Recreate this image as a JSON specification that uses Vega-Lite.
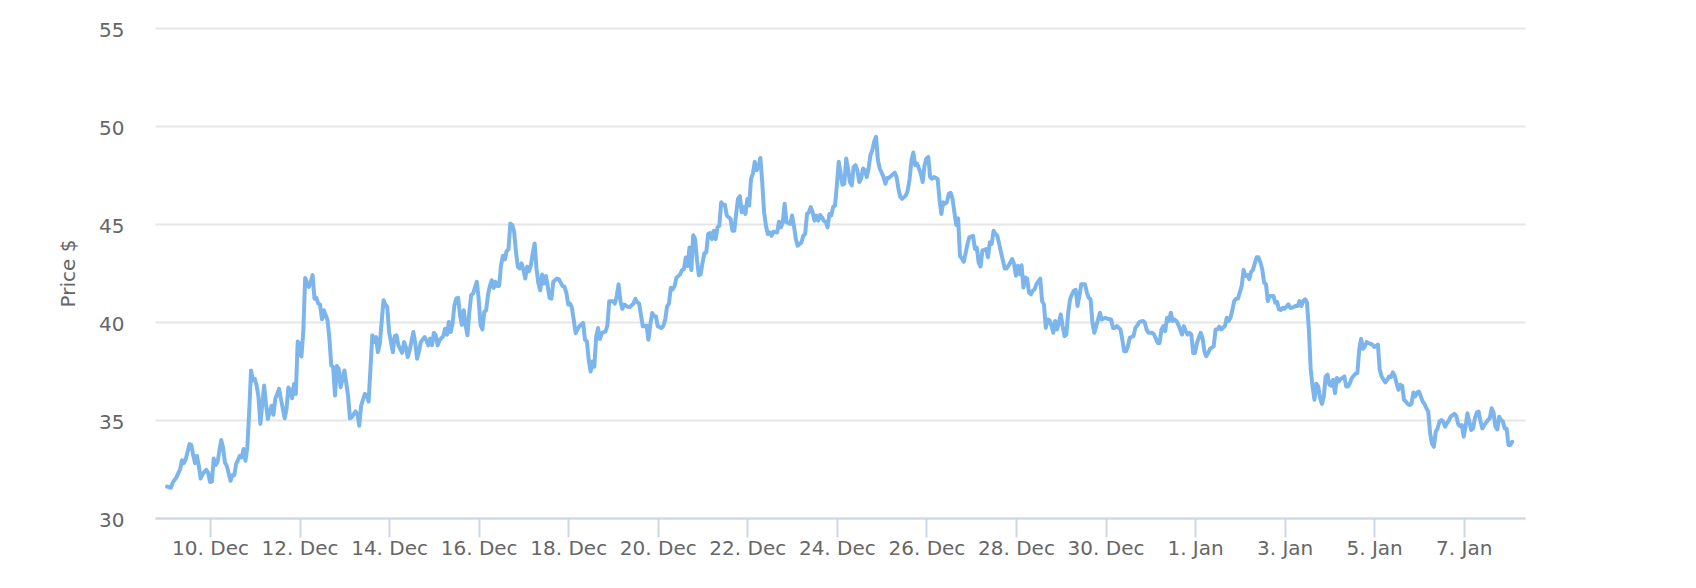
{
"$schema": "https://vega.github.io/schema/vega-lite/v6.json",
"width": 1370, "height": 490,
"autosize": "none",
"padding": {"left": 155, "top": 28, "right": 171, "bottom": 70},
"background": "white",
"config": {"view": {"stroke": null}, "font": "DejaVu Sans"},
"data": {"values": [
{"t":"2017-12-09T01:00Z","p":31.6},{"t":"2017-12-09T03:00Z","p":31.54},{"t":"2017-12-09T04:00Z","p":31.8},{"t":"2017-12-09T06:00Z","p":32.07},{"t":"2017-12-09T08:00Z","p":32.5},{"t":"2017-12-09T09:00Z","p":32.95},{"t":"2017-12-09T10:00Z","p":32.8},{"t":"2017-12-09T11:00Z","p":33.0},{"t":"2017-12-09T13:00Z","p":33.77},{"t":"2017-12-09T14:00Z","p":33.72},{"t":"2017-12-09T15:00Z","p":33.2},{"t":"2017-12-09T16:00Z","p":32.8},{"t":"2017-12-09T17:00Z","p":33.17},{"t":"2017-12-09T18:00Z","p":32.66},{"t":"2017-12-09T19:00Z","p":32.01},{"t":"2017-12-09T20:00Z","p":32.24},{"t":"2017-12-09T22:00Z","p":32.46},{"t":"2017-12-09T23:00Z","p":32.32},
{"t":"2017-12-10T00:00Z","p":31.84},{"t":"2017-12-10T01:00Z","p":31.86},{"t":"2017-12-10T02:00Z","p":33.04},{"t":"2017-12-10T03:00Z","p":32.7},{"t":"2017-12-10T04:00Z","p":32.83},{"t":"2017-12-10T06:00Z","p":33.98},{"t":"2017-12-10T07:00Z","p":33.6},{"t":"2017-12-10T08:00Z","p":32.83},{"t":"2017-12-10T09:00Z","p":32.66},{"t":"2017-12-10T11:00Z","p":31.9},{"t":"2017-12-10T12:00Z","p":32.18},{"t":"2017-12-10T13:00Z","p":32.18},{"t":"2017-12-10T14:00Z","p":32.75},{"t":"2017-12-10T16:00Z","p":33.17},{"t":"2017-12-10T17:00Z","p":33.09},{"t":"2017-12-10T18:00Z","p":33.52},{"t":"2017-12-10T19:00Z","p":32.92},{"t":"2017-12-10T20:00Z","p":33.6},{"t":"2017-12-10T21:00Z","p":35.39},{"t":"2017-12-10T22:00Z","p":37.53},{"t":"2017-12-10T23:00Z","p":37.02},
{"t":"2017-12-11T00:00Z","p":37.1},{"t":"2017-12-11T01:00Z","p":36.76},{"t":"2017-12-11T02:00Z","p":36.16},{"t":"2017-12-11T03:00Z","p":34.8},{"t":"2017-12-11T05:00Z","p":36.76},{"t":"2017-12-11T06:00Z","p":35.82},{"t":"2017-12-11T07:00Z","p":35.05},{"t":"2017-12-11T09:00Z","p":35.73},{"t":"2017-12-11T10:00Z","p":35.27},{"t":"2017-12-11T11:00Z","p":36.08},{"t":"2017-12-11T13:00Z","p":36.59},{"t":"2017-12-11T14:00Z","p":36.08},{"t":"2017-12-11T16:00Z","p":35.09},{"t":"2017-12-11T17:00Z","p":35.56},{"t":"2017-12-11T18:00Z","p":36.66},{"t":"2017-12-11T19:00Z","p":36.5},{"t":"2017-12-11T20:00Z","p":36.11},{"t":"2017-12-11T21:00Z","p":36.84},{"t":"2017-12-11T22:00Z","p":36.33},{"t":"2017-12-11T23:00Z","p":39.01},
{"t":"2017-12-12T00:00Z","p":38.89},{"t":"2017-12-12T01:00Z","p":38.24},{"t":"2017-12-12T02:00Z","p":39.49},{"t":"2017-12-12T03:00Z","p":42.25},{"t":"2017-12-12T05:00Z","p":41.79},{"t":"2017-12-12T06:00Z","p":42.05},{"t":"2017-12-12T07:00Z","p":42.39},{"t":"2017-12-12T08:00Z","p":41.19},{"t":"2017-12-12T09:00Z","p":41.23},{"t":"2017-12-12T10:00Z","p":40.94},{"t":"2017-12-12T11:00Z","p":40.89},{"t":"2017-12-12T12:00Z","p":40.14},{"t":"2017-12-12T13:00Z","p":40.6},{"t":"2017-12-12T15:00Z","p":40.09},{"t":"2017-12-12T16:00Z","p":39.15},{"t":"2017-12-12T17:00Z","p":37.78},{"t":"2017-12-12T18:00Z","p":37.7},{"t":"2017-12-12T19:00Z","p":36.25},{"t":"2017-12-12T20:00Z","p":37.75},{"t":"2017-12-12T21:00Z","p":37.61},{"t":"2017-12-12T22:00Z","p":36.67},{"t":"2017-12-12T23:00Z","p":37.1},
{"t":"2017-12-13T00:00Z","p":37.53},{"t":"2017-12-13T02:00Z","p":36.25},{"t":"2017-12-13T03:00Z","p":35.09},{"t":"2017-12-13T04:00Z","p":35.14},{"t":"2017-12-13T06:00Z","p":35.44},{"t":"2017-12-13T07:00Z","p":35.31},{"t":"2017-12-13T08:00Z","p":34.71},{"t":"2017-12-13T09:00Z","p":35.73},{"t":"2017-12-13T11:00Z","p":36.33},{"t":"2017-12-13T12:00Z","p":36.28},{"t":"2017-12-13T13:00Z","p":35.94},{"t":"2017-12-13T14:00Z","p":37.61},{"t":"2017-12-13T15:00Z","p":39.32},{"t":"2017-12-13T16:00Z","p":38.98},{"t":"2017-12-13T17:00Z","p":39.23},{"t":"2017-12-13T18:00Z","p":38.46},{"t":"2017-12-13T19:00Z","p":38.89},{"t":"2017-12-13T21:00Z","p":41.11},{"t":"2017-12-13T22:00Z","p":40.89},{"t":"2017-12-13T23:00Z","p":40.77},
{"t":"2017-12-14T00:00Z","p":39.49},{"t":"2017-12-14T02:00Z","p":38.46},{"t":"2017-12-14T03:00Z","p":39.28},{"t":"2017-12-14T04:00Z","p":39.32},{"t":"2017-12-14T05:00Z","p":38.81},{"t":"2017-12-14T07:00Z","p":38.43},{"t":"2017-12-14T08:00Z","p":38.98},{"t":"2017-12-14T09:00Z","p":38.72},{"t":"2017-12-14T10:00Z","p":38.21},{"t":"2017-12-14T11:00Z","p":38.55},{"t":"2017-12-14T13:00Z","p":39.49},{"t":"2017-12-14T14:00Z","p":38.94},{"t":"2017-12-14T15:00Z","p":38.12},{"t":"2017-12-14T16:00Z","p":38.5},{"t":"2017-12-14T17:00Z","p":38.98},{"t":"2017-12-14T19:00Z","p":39.23},{"t":"2017-12-14T20:00Z","p":39.06},{"t":"2017-12-14T21:00Z","p":38.81},{"t":"2017-12-14T22:00Z","p":39.15},{"t":"2017-12-14T23:00Z","p":38.81},
{"t":"2017-12-15T00:00Z","p":39.45},{"t":"2017-12-15T01:00Z","p":39.32},{"t":"2017-12-15T02:00Z","p":38.81},{"t":"2017-12-15T03:00Z","p":39.06},{"t":"2017-12-15T05:00Z","p":39.28},{"t":"2017-12-15T06:00Z","p":39.66},{"t":"2017-12-15T07:00Z","p":39.35},{"t":"2017-12-15T08:00Z","p":40.0},{"t":"2017-12-15T09:00Z","p":39.49},{"t":"2017-12-15T10:00Z","p":39.91},{"t":"2017-12-15T11:00Z","p":40.85},{"t":"2017-12-15T12:00Z","p":41.19},{"t":"2017-12-15T13:00Z","p":41.23},{"t":"2017-12-15T14:00Z","p":40.34},{"t":"2017-12-15T15:00Z","p":39.86},{"t":"2017-12-15T16:00Z","p":40.6},{"t":"2017-12-15T17:00Z","p":39.83},{"t":"2017-12-15T18:00Z","p":39.32},{"t":"2017-12-15T19:00Z","p":40.51},{"t":"2017-12-15T20:00Z","p":41.37},{"t":"2017-12-15T21:00Z","p":41.45},{"t":"2017-12-15T23:00Z","p":42.05},
{"t":"2017-12-16T00:00Z","p":41.19},{"t":"2017-12-16T01:00Z","p":39.86},{"t":"2017-12-16T02:00Z","p":39.62},{"t":"2017-12-16T03:00Z","p":40.51},{"t":"2017-12-16T04:00Z","p":40.6},{"t":"2017-12-16T05:00Z","p":41.37},{"t":"2017-12-16T06:00Z","p":41.84},{"t":"2017-12-16T07:00Z","p":42.13},{"t":"2017-12-16T08:00Z","p":41.74},{"t":"2017-12-16T09:00Z","p":42.05},{"t":"2017-12-16T10:00Z","p":41.84},{"t":"2017-12-16T11:00Z","p":41.84},{"t":"2017-12-16T12:00Z","p":42.9},{"t":"2017-12-16T13:00Z","p":43.38},{"t":"2017-12-16T14:00Z","p":43.19},{"t":"2017-12-16T15:00Z","p":43.62},{"t":"2017-12-16T16:00Z","p":43.72},{"t":"2017-12-16T17:00Z","p":45.03},{"t":"2017-12-16T18:00Z","p":44.95},{"t":"2017-12-16T19:00Z","p":44.61},{"t":"2017-12-16T20:00Z","p":43.58},{"t":"2017-12-16T21:00Z","p":42.82},{"t":"2017-12-16T22:00Z","p":42.73},{"t":"2017-12-16T23:00Z","p":42.99},
{"t":"2017-12-17T00:00Z","p":42.65},{"t":"2017-12-17T01:00Z","p":42.22},{"t":"2017-12-17T02:00Z","p":42.82},{"t":"2017-12-17T03:00Z","p":42.59},{"t":"2017-12-17T04:00Z","p":42.9},{"t":"2017-12-17T05:00Z","p":43.5},{"t":"2017-12-17T06:00Z","p":44.01},{"t":"2017-12-17T07:00Z","p":42.73},{"t":"2017-12-17T08:00Z","p":41.96},{"t":"2017-12-17T09:00Z","p":41.62},{"t":"2017-12-17T10:00Z","p":42.42},{"t":"2017-12-17T11:00Z","p":41.96},{"t":"2017-12-17T12:00Z","p":42.35},{"t":"2017-12-17T13:00Z","p":41.84},{"t":"2017-12-17T14:00Z","p":41.23},{"t":"2017-12-17T15:00Z","p":41.19},{"t":"2017-12-17T16:00Z","p":42.05},{"t":"2017-12-17T18:00Z","p":42.22},{"t":"2017-12-17T19:00Z","p":42.18},{"t":"2017-12-17T21:00Z","p":41.83},{"t":"2017-12-17T22:00Z","p":41.8},{"t":"2017-12-17T23:00Z","p":41.49},
{"t":"2017-12-18T00:00Z","p":40.89},{"t":"2017-12-18T01:00Z","p":40.94},{"t":"2017-12-18T02:00Z","p":40.72},{"t":"2017-12-18T04:00Z","p":39.43},{"t":"2017-12-18T05:00Z","p":39.61},{"t":"2017-12-18T06:00Z","p":39.78},{"t":"2017-12-18T08:00Z","p":39.95},{"t":"2017-12-18T09:00Z","p":39.09},{"t":"2017-12-18T10:00Z","p":39.01},{"t":"2017-12-18T11:00Z","p":38.07},{"t":"2017-12-18T12:00Z","p":37.47},{"t":"2017-12-18T13:00Z","p":37.98},{"t":"2017-12-18T14:00Z","p":37.72},{"t":"2017-12-18T15:00Z","p":39.26},{"t":"2017-12-18T16:00Z","p":39.69},{"t":"2017-12-18T17:00Z","p":39.13},{"t":"2017-12-18T18:00Z","p":39.43},{"t":"2017-12-18T20:00Z","p":39.52},{"t":"2017-12-18T21:00Z","p":39.81},{"t":"2017-12-18T22:00Z","p":41.06},
{"t":"2017-12-19T00:00Z","p":41.06},{"t":"2017-12-19T01:00Z","p":40.94},{"t":"2017-12-19T02:00Z","p":41.32},{"t":"2017-12-19T03:00Z","p":41.92},{"t":"2017-12-19T04:00Z","p":41.06},{"t":"2017-12-19T05:00Z","p":40.67},{"t":"2017-12-19T06:00Z","p":40.89},{"t":"2017-12-19T08:00Z","p":40.77},{"t":"2017-12-19T09:00Z","p":40.77},{"t":"2017-12-19T11:00Z","p":40.94},{"t":"2017-12-19T12:00Z","p":41.18},{"t":"2017-12-19T13:00Z","p":41.01},{"t":"2017-12-19T14:00Z","p":40.94},{"t":"2017-12-19T16:00Z","p":39.78},{"t":"2017-12-19T17:00Z","p":39.78},{"t":"2017-12-19T18:00Z","p":39.81},{"t":"2017-12-19T19:00Z","p":39.09},{"t":"2017-12-19T20:00Z","p":39.86},{"t":"2017-12-19T21:00Z","p":40.46},{"t":"2017-12-19T22:00Z","p":40.29},{"t":"2017-12-19T23:00Z","p":40.29},
{"t":"2017-12-20T00:00Z","p":39.78},{"t":"2017-12-20T02:00Z","p":39.69},{"t":"2017-12-20T03:00Z","p":39.81},{"t":"2017-12-20T04:00Z","p":40.12},{"t":"2017-12-20T05:00Z","p":40.8},{"t":"2017-12-20T06:00Z","p":40.94},{"t":"2017-12-20T07:00Z","p":41.75},{"t":"2017-12-20T08:00Z","p":41.66},{"t":"2017-12-20T09:00Z","p":41.83},{"t":"2017-12-20T10:00Z","p":42.26},{"t":"2017-12-20T12:00Z","p":42.43},{"t":"2017-12-20T13:00Z","p":42.65},{"t":"2017-12-20T14:00Z","p":42.69},{"t":"2017-12-20T15:00Z","p":43.29},{"t":"2017-12-20T16:00Z","p":42.86},{"t":"2017-12-20T17:00Z","p":43.8},{"t":"2017-12-20T18:00Z","p":42.65},{"t":"2017-12-20T19:00Z","p":44.43},{"t":"2017-12-20T20:00Z","p":44.23},{"t":"2017-12-20T21:00Z","p":43.2},{"t":"2017-12-20T22:00Z","p":42.38},{"t":"2017-12-20T23:00Z","p":42.43},
{"t":"2017-12-21T00:00Z","p":43.03},{"t":"2017-12-21T01:00Z","p":43.51},{"t":"2017-12-21T02:00Z","p":43.54},{"t":"2017-12-21T03:00Z","p":44.49},{"t":"2017-12-21T04:00Z","p":44.54},{"t":"2017-12-21T05:00Z","p":44.23},{"t":"2017-12-21T06:00Z","p":44.66},{"t":"2017-12-21T07:00Z","p":44.23},{"t":"2017-12-21T08:00Z","p":44.83},{"t":"2017-12-21T09:00Z","p":44.91},{"t":"2017-12-21T10:00Z","p":46.11},{"t":"2017-12-21T11:00Z","p":45.98},{"t":"2017-12-21T12:00Z","p":45.98},{"t":"2017-12-21T13:00Z","p":45.43},{"t":"2017-12-21T14:00Z","p":45.34},{"t":"2017-12-21T15:00Z","p":45.26},{"t":"2017-12-21T16:00Z","p":44.66},{"t":"2017-12-21T17:00Z","p":44.66},{"t":"2017-12-21T18:00Z","p":45.51},{"t":"2017-12-21T19:00Z","p":46.28},{"t":"2017-12-21T20:00Z","p":46.42},{"t":"2017-12-21T21:00Z","p":45.6},{"t":"2017-12-21T22:00Z","p":45.86},{"t":"2017-12-21T23:00Z","p":45.51},
{"t":"2017-12-22T00:00Z","p":46.28},{"t":"2017-12-22T01:00Z","p":45.94},{"t":"2017-12-22T02:00Z","p":47.31},{"t":"2017-12-22T03:00Z","p":47.57},{"t":"2017-12-22T04:00Z","p":48.17},{"t":"2017-12-22T05:00Z","p":47.74},{"t":"2017-12-22T06:00Z","p":47.91},{"t":"2017-12-22T07:00Z","p":48.37},{"t":"2017-12-22T08:00Z","p":47.14},{"t":"2017-12-22T09:00Z","p":45.6},{"t":"2017-12-22T10:00Z","p":44.91},{"t":"2017-12-22T11:00Z","p":44.49},{"t":"2017-12-22T12:00Z","p":44.57},{"t":"2017-12-22T13:00Z","p":44.4},{"t":"2017-12-22T14:00Z","p":44.61},{"t":"2017-12-22T16:00Z","p":44.57},{"t":"2017-12-22T17:00Z","p":45.12},{"t":"2017-12-22T18:00Z","p":44.83},{"t":"2017-12-22T19:00Z","p":45.09},{"t":"2017-12-22T20:00Z","p":46.03},{"t":"2017-12-22T21:00Z","p":45.09},{"t":"2017-12-22T22:00Z","p":45.05},{"t":"2017-12-22T23:00Z","p":45.0},
{"t":"2017-12-23T00:00Z","p":45.43},{"t":"2017-12-23T01:00Z","p":44.91},{"t":"2017-12-23T02:00Z","p":44.23},{"t":"2017-12-23T03:00Z","p":43.89},{"t":"2017-12-23T05:00Z","p":44.06},{"t":"2017-12-23T06:00Z","p":44.4},{"t":"2017-12-23T07:00Z","p":44.49},{"t":"2017-12-23T08:00Z","p":45.51},{"t":"2017-12-23T09:00Z","p":45.6},{"t":"2017-12-23T10:00Z","p":45.86},{"t":"2017-12-23T11:00Z","p":45.6},{"t":"2017-12-23T12:00Z","p":45.17},{"t":"2017-12-23T13:00Z","p":45.43},{"t":"2017-12-23T14:00Z","p":45.17},{"t":"2017-12-23T15:00Z","p":45.46},{"t":"2017-12-23T16:00Z","p":45.34},{"t":"2017-12-23T17:00Z","p":45.17},{"t":"2017-12-23T18:00Z","p":45.12},{"t":"2017-12-23T19:00Z","p":44.83},{"t":"2017-12-23T20:00Z","p":45.51},{"t":"2017-12-23T21:00Z","p":45.43},{"t":"2017-12-23T22:00Z","p":45.86},{"t":"2017-12-23T23:00Z","p":45.94},
{"t":"2017-12-24T00:00Z","p":46.97},{"t":"2017-12-24T01:00Z","p":48.17},{"t":"2017-12-24T02:00Z","p":47.57},{"t":"2017-12-24T03:00Z","p":47.0},{"t":"2017-12-24T04:00Z","p":47.05},{"t":"2017-12-24T05:00Z","p":48.34},{"t":"2017-12-24T06:00Z","p":47.83},{"t":"2017-12-24T07:00Z","p":47.14},{"t":"2017-12-24T08:00Z","p":46.97},{"t":"2017-12-24T09:00Z","p":47.91},{"t":"2017-12-24T10:00Z","p":48.0},{"t":"2017-12-24T11:00Z","p":47.74},{"t":"2017-12-24T12:00Z","p":47.14},{"t":"2017-12-24T13:00Z","p":47.31},{"t":"2017-12-24T14:00Z","p":47.83},{"t":"2017-12-24T15:00Z","p":47.74},{"t":"2017-12-24T16:00Z","p":47.4},{"t":"2017-12-24T17:00Z","p":47.83},{"t":"2017-12-24T18:00Z","p":48.51},{"t":"2017-12-24T19:00Z","p":48.77},{"t":"2017-12-24T20:00Z","p":49.2},{"t":"2017-12-24T21:00Z","p":49.45},{"t":"2017-12-24T22:00Z","p":48.25},{"t":"2017-12-24T23:00Z","p":47.83},
{"t":"2017-12-25T00:00Z","p":47.62},{"t":"2017-12-25T01:00Z","p":47.4},{"t":"2017-12-25T02:00Z","p":47.05},{"t":"2017-12-25T03:00Z","p":47.35},{"t":"2017-12-25T04:00Z","p":47.35},{"t":"2017-12-25T05:00Z","p":47.45},{"t":"2017-12-25T07:00Z","p":47.62},{"t":"2017-12-25T08:00Z","p":47.4},{"t":"2017-12-25T09:00Z","p":46.8},{"t":"2017-12-25T10:00Z","p":46.37},{"t":"2017-12-25T11:00Z","p":46.28},{"t":"2017-12-25T13:00Z","p":46.46},{"t":"2017-12-25T14:00Z","p":46.71},{"t":"2017-12-25T15:00Z","p":47.31},{"t":"2017-12-25T16:00Z","p":48.25},{"t":"2017-12-25T17:00Z","p":48.65},{"t":"2017-12-25T18:00Z","p":48.0},{"t":"2017-12-25T19:00Z","p":48.08},{"t":"2017-12-25T20:00Z","p":47.83},{"t":"2017-12-25T21:00Z","p":47.57},{"t":"2017-12-25T22:00Z","p":47.14},{"t":"2017-12-25T23:00Z","p":48.0},
{"t":"2017-12-26T00:00Z","p":48.34},{"t":"2017-12-26T01:00Z","p":48.42},{"t":"2017-12-26T02:00Z","p":47.4},{"t":"2017-12-26T03:00Z","p":47.31},{"t":"2017-12-26T04:00Z","p":47.4},{"t":"2017-12-26T05:00Z","p":47.35},{"t":"2017-12-26T06:00Z","p":47.31},{"t":"2017-12-26T07:00Z","p":46.28},{"t":"2017-12-26T08:00Z","p":45.51},{"t":"2017-12-26T09:00Z","p":46.11},{"t":"2017-12-26T10:00Z","p":46.03},{"t":"2017-12-26T11:00Z","p":46.11},{"t":"2017-12-26T12:00Z","p":46.54},{"t":"2017-12-26T13:00Z","p":46.59},{"t":"2017-12-26T14:00Z","p":46.28},{"t":"2017-12-26T15:00Z","p":45.6},{"t":"2017-12-26T16:00Z","p":44.95},{"t":"2017-12-26T17:00Z","p":45.29},{"t":"2017-12-26T18:00Z","p":43.37},{"t":"2017-12-26T19:00Z","p":43.24},{"t":"2017-12-26T20:00Z","p":43.07},{"t":"2017-12-26T21:00Z","p":43.51},{"t":"2017-12-26T22:00Z","p":43.97},{"t":"2017-12-26T23:00Z","p":44.32},
{"t":"2017-12-27T01:00Z","p":44.4},{"t":"2017-12-27T02:00Z","p":43.72},{"t":"2017-12-27T03:00Z","p":43.8},{"t":"2017-12-27T04:00Z","p":43.03},{"t":"2017-12-27T05:00Z","p":42.83},{"t":"2017-12-27T06:00Z","p":43.64},{"t":"2017-12-27T08:00Z","p":43.72},{"t":"2017-12-27T09:00Z","p":43.3},{"t":"2017-12-27T10:00Z","p":44.07},{"t":"2017-12-27T11:00Z","p":43.98},{"t":"2017-12-27T12:00Z","p":44.66},{"t":"2017-12-27T13:00Z","p":44.49},{"t":"2017-12-27T14:00Z","p":44.41},{"t":"2017-12-27T16:00Z","p":43.55},{"t":"2017-12-27T18:00Z","p":42.73},{"t":"2017-12-27T19:00Z","p":42.73},{"t":"2017-12-27T20:00Z","p":42.87},{"t":"2017-12-27T22:00Z","p":43.21},{"t":"2017-12-27T23:00Z","p":42.95},
{"t":"2017-12-28T00:00Z","p":42.36},{"t":"2017-12-28T01:00Z","p":42.87},{"t":"2017-12-28T02:00Z","p":42.44},{"t":"2017-12-28T03:00Z","p":42.9},{"t":"2017-12-28T04:00Z","p":41.76},{"t":"2017-12-28T05:00Z","p":42.27},{"t":"2017-12-28T06:00Z","p":42.22},{"t":"2017-12-28T07:00Z","p":41.5},{"t":"2017-12-28T08:00Z","p":41.41},{"t":"2017-12-28T09:00Z","p":41.59},{"t":"2017-12-28T10:00Z","p":41.67},{"t":"2017-12-28T11:00Z","p":41.93},{"t":"2017-12-28T13:00Z","p":42.22},{"t":"2017-12-28T14:00Z","p":41.07},{"t":"2017-12-28T15:00Z","p":40.9},{"t":"2017-12-28T16:00Z","p":39.7},{"t":"2017-12-28T17:00Z","p":40.13},{"t":"2017-12-28T18:00Z","p":40.1},{"t":"2017-12-28T19:00Z","p":39.82},{"t":"2017-12-28T20:00Z","p":39.45},{"t":"2017-12-28T21:00Z","p":40.05},{"t":"2017-12-28T22:00Z","p":39.62},{"t":"2017-12-28T23:00Z","p":39.96},
{"t":"2017-12-29T00:00Z","p":40.39},{"t":"2017-12-29T01:00Z","p":39.79},{"t":"2017-12-29T02:00Z","p":39.28},{"t":"2017-12-29T03:00Z","p":39.36},{"t":"2017-12-29T04:00Z","p":40.47},{"t":"2017-12-29T05:00Z","p":41.16},{"t":"2017-12-29T06:00Z","p":41.41},{"t":"2017-12-29T07:00Z","p":41.59},{"t":"2017-12-29T08:00Z","p":41.64},{"t":"2017-12-29T09:00Z","p":40.82},{"t":"2017-12-29T10:00Z","p":41.33},{"t":"2017-12-29T11:00Z","p":41.93},{"t":"2017-12-29T13:00Z","p":41.93},{"t":"2017-12-29T14:00Z","p":41.5},{"t":"2017-12-29T15:00Z","p":41.24},{"t":"2017-12-29T16:00Z","p":41.16},{"t":"2017-12-29T17:00Z","p":39.96},{"t":"2017-12-29T18:00Z","p":39.45},{"t":"2017-12-29T19:00Z","p":39.79},{"t":"2017-12-29T21:00Z","p":40.47},{"t":"2017-12-29T22:00Z","p":40.13},
{"t":"2017-12-30T00:00Z","p":40.22},{"t":"2017-12-30T01:00Z","p":40.17},{"t":"2017-12-30T03:00Z","p":40.13},{"t":"2017-12-30T04:00Z","p":39.7},{"t":"2017-12-30T05:00Z","p":39.7},{"t":"2017-12-30T06:00Z","p":39.79},{"t":"2017-12-30T08:00Z","p":39.62},{"t":"2017-12-30T09:00Z","p":39.11},{"t":"2017-12-30T10:00Z","p":38.51},{"t":"2017-12-30T11:00Z","p":38.51},{"t":"2017-12-30T12:00Z","p":38.76},{"t":"2017-12-30T13:00Z","p":39.19},{"t":"2017-12-30T14:00Z","p":39.24},{"t":"2017-12-30T15:00Z","p":39.28},{"t":"2017-12-30T16:00Z","p":39.7},{"t":"2017-12-30T17:00Z","p":39.82},{"t":"2017-12-30T18:00Z","p":39.99},{"t":"2017-12-30T20:00Z","p":40.05},{"t":"2017-12-30T21:00Z","p":39.99},{"t":"2017-12-30T22:00Z","p":39.62},{"t":"2017-12-30T23:00Z","p":39.45},
{"t":"2017-12-31T01:00Z","p":39.45},{"t":"2017-12-31T02:00Z","p":39.36},{"t":"2017-12-31T04:00Z","p":38.93},{"t":"2017-12-31T05:00Z","p":38.93},{"t":"2017-12-31T06:00Z","p":39.62},{"t":"2017-12-31T07:00Z","p":39.79},{"t":"2017-12-31T08:00Z","p":39.53},{"t":"2017-12-31T09:00Z","p":40.22},{"t":"2017-12-31T10:00Z","p":40.05},{"t":"2017-12-31T11:00Z","p":40.47},{"t":"2017-12-31T12:00Z","p":40.05},{"t":"2017-12-31T13:00Z","p":40.13},{"t":"2017-12-31T14:00Z","p":40.05},{"t":"2017-12-31T15:00Z","p":39.87},{"t":"2017-12-31T17:00Z","p":39.36},{"t":"2017-12-31T18:00Z","p":39.79},{"t":"2017-12-31T19:00Z","p":39.53},{"t":"2017-12-31T20:00Z","p":39.36},{"t":"2017-12-31T21:00Z","p":39.45},{"t":"2017-12-31T22:00Z","p":39.36},{"t":"2017-12-31T23:00Z","p":38.42},
{"t":"2018-01-01T00:00Z","p":38.42},{"t":"2018-01-01T01:00Z","p":38.93},{"t":"2018-01-01T03:00Z","p":39.45},{"t":"2018-01-01T04:00Z","p":39.19},{"t":"2018-01-01T05:00Z","p":38.51},{"t":"2018-01-01T06:00Z","p":38.25},{"t":"2018-01-01T07:00Z","p":38.42},{"t":"2018-01-01T08:00Z","p":38.63},{"t":"2018-01-01T10:00Z","p":38.76},{"t":"2018-01-01T11:00Z","p":39.62},{"t":"2018-01-01T12:00Z","p":39.62},{"t":"2018-01-01T13:00Z","p":39.76},{"t":"2018-01-01T14:00Z","p":39.62},{"t":"2018-01-01T16:00Z","p":39.79},{"t":"2018-01-01T17:00Z","p":40.22},{"t":"2018-01-01T18:00Z","p":40.05},{"t":"2018-01-01T19:00Z","p":40.22},{"t":"2018-01-01T20:00Z","p":40.61},{"t":"2018-01-01T21:00Z","p":41.07},{"t":"2018-01-01T22:00Z","p":41.19},{"t":"2018-01-01T23:00Z","p":41.19},
{"t":"2018-01-02T01:00Z","p":41.84},{"t":"2018-01-02T02:00Z","p":42.66},{"t":"2018-01-02T03:00Z","p":42.35},{"t":"2018-01-02T04:00Z","p":42.39},{"t":"2018-01-02T05:00Z","p":42.18},{"t":"2018-01-02T06:00Z","p":42.56},{"t":"2018-01-02T07:00Z","p":42.66},{"t":"2018-01-02T09:00Z","p":43.3},{"t":"2018-01-02T10:00Z","p":43.3},{"t":"2018-01-02T11:00Z","p":43.04},{"t":"2018-01-02T12:00Z","p":42.7},{"t":"2018-01-02T13:00Z","p":42.01},{"t":"2018-01-02T14:00Z","p":41.93},{"t":"2018-01-02T15:00Z","p":41.07},{"t":"2018-01-02T16:00Z","p":41.33},{"t":"2018-01-02T18:00Z","p":41.33},{"t":"2018-01-02T19:00Z","p":40.99},{"t":"2018-01-02T20:00Z","p":41.02},{"t":"2018-01-02T21:00Z","p":40.64},{"t":"2018-01-02T22:00Z","p":40.61},{"t":"2018-01-02T23:00Z","p":40.73},
{"t":"2018-01-03T00:00Z","p":40.68},{"t":"2018-01-03T01:00Z","p":40.78},{"t":"2018-01-03T02:00Z","p":40.9},{"t":"2018-01-03T03:00Z","p":40.73},{"t":"2018-01-03T04:00Z","p":40.73},{"t":"2018-01-03T06:00Z","p":40.82},{"t":"2018-01-03T07:00Z","p":40.82},{"t":"2018-01-03T08:00Z","p":41.07},{"t":"2018-01-03T09:00Z","p":40.82},{"t":"2018-01-03T10:00Z","p":41.07},{"t":"2018-01-03T11:00Z","p":41.16},{"t":"2018-01-03T12:00Z","p":40.99},{"t":"2018-01-03T13:00Z","p":39.62},{"t":"2018-01-03T14:00Z","p":37.57},{"t":"2018-01-03T15:00Z","p":36.71},{"t":"2018-01-03T16:00Z","p":36.03},{"t":"2018-01-03T17:00Z","p":36.85},{"t":"2018-01-03T18:00Z","p":36.71},{"t":"2018-01-03T19:00Z","p":36.11},{"t":"2018-01-03T20:00Z","p":35.82},{"t":"2018-01-03T21:00Z","p":36.2},{"t":"2018-01-03T22:00Z","p":37.22},{"t":"2018-01-03T23:00Z","p":37.31},
{"t":"2018-01-04T00:00Z","p":36.8},{"t":"2018-01-04T01:00Z","p":36.75},{"t":"2018-01-04T02:00Z","p":37.05},{"t":"2018-01-04T03:00Z","p":36.37},{"t":"2018-01-04T04:00Z","p":37.14},{"t":"2018-01-04T05:00Z","p":36.97},{"t":"2018-01-04T06:00Z","p":37.09},{"t":"2018-01-04T07:00Z","p":37.14},{"t":"2018-01-04T08:00Z","p":37.22},{"t":"2018-01-04T09:00Z","p":36.71},{"t":"2018-01-04T10:00Z","p":36.71},{"t":"2018-01-04T11:00Z","p":36.88},{"t":"2018-01-04T12:00Z","p":37.14},{"t":"2018-01-04T14:00Z","p":37.36},{"t":"2018-01-04T15:00Z","p":37.39},{"t":"2018-01-04T16:00Z","p":38.59},{"t":"2018-01-04T17:00Z","p":39.14},{"t":"2018-01-04T18:00Z","p":38.63},{"t":"2018-01-04T19:00Z","p":38.76},{"t":"2018-01-04T20:00Z","p":38.97},{"t":"2018-01-04T21:00Z","p":38.93},{"t":"2018-01-04T23:00Z","p":38.85},
{"t":"2018-01-05T00:00Z","p":38.73},{"t":"2018-01-05T01:00Z","p":38.76},{"t":"2018-01-05T02:00Z","p":38.85},{"t":"2018-01-05T03:00Z","p":37.57},{"t":"2018-01-05T04:00Z","p":37.22},{"t":"2018-01-05T05:00Z","p":37.05},{"t":"2018-01-05T06:00Z","p":36.92},{"t":"2018-01-05T07:00Z","p":37.05},{"t":"2018-01-05T08:00Z","p":37.22},{"t":"2018-01-05T09:00Z","p":37.19},{"t":"2018-01-05T10:00Z","p":37.43},{"t":"2018-01-05T11:00Z","p":37.26},{"t":"2018-01-05T12:00Z","p":36.88},{"t":"2018-01-05T13:00Z","p":36.54},{"t":"2018-01-05T14:00Z","p":36.8},{"t":"2018-01-05T15:00Z","p":36.75},{"t":"2018-01-05T16:00Z","p":36.03},{"t":"2018-01-05T17:00Z","p":35.94},{"t":"2018-01-05T18:00Z","p":35.82},{"t":"2018-01-05T19:00Z","p":35.77},{"t":"2018-01-05T20:00Z","p":35.82},{"t":"2018-01-05T21:00Z","p":36.4},{"t":"2018-01-05T22:00Z","p":36.2},{"t":"2018-01-05T23:00Z","p":36.4},
{"t":"2018-01-06T00:00Z","p":36.45},{"t":"2018-01-06T01:00Z","p":36.2},{"t":"2018-01-06T02:00Z","p":35.94},{"t":"2018-01-06T03:00Z","p":35.82},{"t":"2018-01-06T04:00Z","p":35.6},{"t":"2018-01-06T05:00Z","p":35.43},{"t":"2018-01-06T06:00Z","p":34.32},{"t":"2018-01-06T07:00Z","p":33.8},{"t":"2018-01-06T08:00Z","p":33.63},{"t":"2018-01-06T09:00Z","p":34.4},{"t":"2018-01-06T10:00Z","p":34.57},{"t":"2018-01-06T11:00Z","p":34.92},{"t":"2018-01-06T12:00Z","p":35.0},{"t":"2018-01-06T13:00Z","p":34.92},{"t":"2018-01-06T14:00Z","p":34.66},{"t":"2018-01-06T15:00Z","p":34.83},{"t":"2018-01-06T16:00Z","p":34.97},{"t":"2018-01-06T17:00Z","p":35.17},{"t":"2018-01-06T19:00Z","p":35.31},{"t":"2018-01-06T20:00Z","p":35.21},{"t":"2018-01-06T21:00Z","p":34.8},{"t":"2018-01-06T22:00Z","p":34.69},{"t":"2018-01-06T23:00Z","p":34.74},
{"t":"2018-01-07T00:00Z","p":34.15},{"t":"2018-01-07T01:00Z","p":34.66},{"t":"2018-01-07T02:00Z","p":35.34},{"t":"2018-01-07T03:00Z","p":34.92},{"t":"2018-01-07T04:00Z","p":34.49},{"t":"2018-01-07T05:00Z","p":34.57},{"t":"2018-01-07T06:00Z","p":35.09},{"t":"2018-01-07T07:00Z","p":35.38},{"t":"2018-01-07T08:00Z","p":35.43},{"t":"2018-01-07T09:00Z","p":34.92},{"t":"2018-01-07T10:00Z","p":34.57},{"t":"2018-01-07T11:00Z","p":34.74},{"t":"2018-01-07T13:00Z","p":35.0},{"t":"2018-01-07T14:00Z","p":35.09},{"t":"2018-01-07T15:00Z","p":35.6},{"t":"2018-01-07T16:00Z","p":35.38},{"t":"2018-01-07T17:00Z","p":34.66},{"t":"2018-01-07T18:00Z","p":34.52},{"t":"2018-01-07T19:00Z","p":35.17},{"t":"2018-01-07T20:00Z","p":35.0},{"t":"2018-01-07T21:00Z","p":34.92},{"t":"2018-01-07T22:00Z","p":34.57},{"t":"2018-01-07T23:00Z","p":34.57},
{"t":"2018-01-08T00:00Z","p":33.72},{"t":"2018-01-08T01:00Z","p":33.72},{"t":"2018-01-08T02:00Z","p":33.89}
]},
"mark": {"type": "line", "color": "#7cb5ec", "strokeWidth": 4, "strokeJoin": "round", "strokeCap": "round"},
"encoding": {
"x": {"field": "t", "type": "temporal",
"scale": {"type": "utc", "domain": [{"year": 2017, "month": 12, "date": 8, "hours": 18, "minutes": 31, "utc": true}, {"year": 2018, "month": 1, "date": 8, "hours": 8, "minutes": 51, "utc": true}]},
"axis": {"title": null, "grid": false,
"values": [{"year":2017,"month":12,"date":10,"utc":true},{"year":2017,"month":12,"date":12,"utc":true},{"year":2017,"month":12,"date":14,"utc":true},{"year":2017,"month":12,"date":16,"utc":true},{"year":2017,"month":12,"date":18,"utc":true},{"year":2017,"month":12,"date":20,"utc":true},{"year":2017,"month":12,"date":22,"utc":true},{"year":2017,"month":12,"date":24,"utc":true},{"year":2017,"month":12,"date":26,"utc":true},{"year":2017,"month":12,"date":28,"utc":true},{"year":2017,"month":12,"date":30,"utc":true},{"year":2018,"month":1,"date":1,"utc":true},{"year":2018,"month":1,"date":3,"utc":true},{"year":2018,"month":1,"date":5,"utc":true},{"year":2018,"month":1,"date":7,"utc":true}],
"labelExpr": "utcFormat(datum.value, '%-d. %b')",
"domainColor": "#ccd6eb", "domainWidth": 2, "tickColor": "#ccd6eb", "tickWidth": 2, "tickSize": 19,
"labelFont": "DejaVu Sans", "labelFontSize": 20, "labelColor": "#666666", "labelBaseline": "alphabetic", "labelPadding": 17.5, "labelOverlap": false, "labelFlush": false}},
"y": {"field": "p", "type": "quantitative",
"scale": {"domain": [30, 55], "nice": false, "zero": false},
"axis": {"title": "Price $", "values": [30, 35, 40, 45, 50, 55], "domain": false, "ticks": false, "tickSize": 0, "grid": true, "gridColor": "#e6e6e6", "gridWidth": 2,
"labelFont": "DejaVu Sans", "labelFontSize": 20, "labelColor": "#666666", "labelPadding": 31, "labelOffset": 2,
"titleFont": "DejaVu Sans", "titleFontSize": 20, "titleFontWeight": "normal", "titleColor": "#666666", "titleX": -87, "titleY": 245, "titleAngle": 270, "titleAlign": "center", "titleBaseline": "middle"}}
}
}
